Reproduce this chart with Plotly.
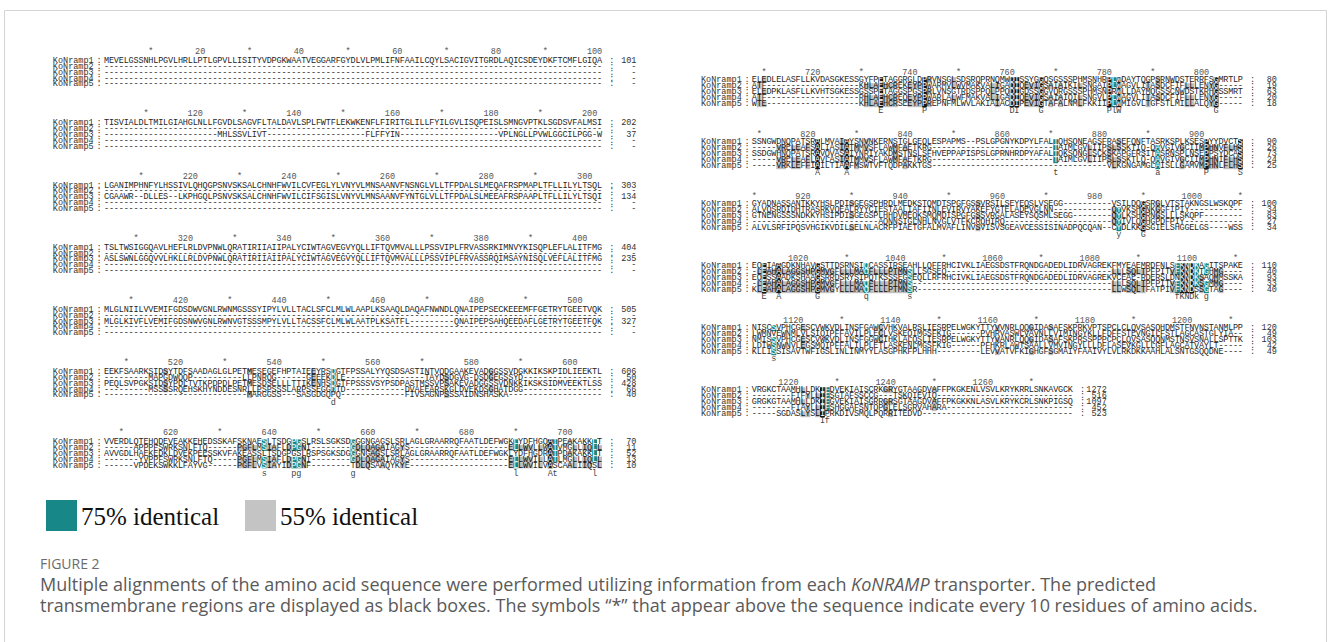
import plotly.graph_objects as go

# ---------------- data ----------------
NAMES = ["KoNramp1", "KoNramp2", "KoNramp3", "KoNramp4", "KoNramp5"]
GAP = "-" * 101

LEFT_STARTS = [1, 102, 203, 304, 405, 506, 607]
LEFT_SEQS = [
    ["MEVELGSSNHLPGVLHRLLPTLGPVLLISITYVDPGKWAATVEGGARFGYDLVLPMLIFNFAAILCQYLSACIGVITGRDLAQICSDEYDKFTCMFLGIQA",
     GAP, GAP, GAP, GAP],
    ["TISVIALDLTMILGIAHGLNLLFGVDLSAGVFLTALDAVLSPLFWTFLEKWKENFLFIRITGLILLFYILGVLISQPEISLSMNGVPTKLSGDSVFALMSI",
     GAP,
     "-" * 23 + "MHLSSVLIVT" + "-" * 20 + "FLFFYIN" + "-" * 20 + "VPLNGLLPVWLGGCILPGG-W",
     GAP, GAP],
    ["LGANIMPHNFYLHSSIVLQHQGPSNVSKSALCHNHFWVILCVFEGLYLVNYVLMNSAANVFNSNGLVLLTFPDALSLMEQAFRSPMAPLTFLLILYLTSQL",
     GAP,
     "CGAAWR--DLLES--LKPHGQLPSNVSKSALCHNHFWVILCIFSGISLVNYVLMNSAANVFYNTGLVLLTFPDALSLMEEAFRSPAAPLTFLLILYLTSQI",
     GAP, GAP],
    ["TSLTWSIGGQAVLHEFLRLDVPNWLQRATIRIIAIIPALYCIWTAGVEGVYQLLIFTQVMVALLLPSSVIPLFRVASSRKIMNVYKISQPLEFLALITFMG",
     GAP,
     "ASLSWNLGGQVVLHKLLRLDVPNWLQRATIRIIAIIPALYCIWTAGVEGVYQLLIFTQVMVALLLPSSVIPLFRVASSRQIMSAYNISQLVEFLALITFMG",
     GAP, GAP],
    ["MLGLNIILVVEMIFGDSDWVGNLRWNMGSSSYIPYLVLLTACLSFCLMLWLAAPLKSAAQLDAQAFNWNDLQNAIPEPSECKEEEMFFGETRYTGEETVQK",
     GAP,
     "MLGLKIVFLVEMIFGDSNWVGNLRWNVGTSSSMPYLVLLTACSSFCLMLWLAATPLKSATFL---------QNAIPEPSAHQEEDAFLGETRYTGEETFQK",
     GAP, GAP],
    ["EEKFSAARKSIDSYTDFSAADAGLGLPETMESEGEFHPTAIEEYRSDGTFPSSALYYQSDSASTINTVQDGAAKEVADGGSSVDGKKIKSKPIDLIEEKTL",
     "---------MAPGDWQQP----------LLPNRQG------GEEEKDLE----------------TAYDSDGVG-DSDGEGSSYD----------------",
     "PEQLSVPGKSIDSYPDLTVTKPDPDLPETMESDSELLLTTIKENHSDGTFPSSSVSYPSDPASTMSSVPSAKEVADGGSSVDNKKIKSKSIDMVEEKTLSS",
     "---------MSSSSRQEHSKHYNDDESNRLLPSPSSSLARPSSEGGDTD------------DVAFEARSKGLDVEKDSGHATDGG----------------",
     "-" * 29 + "MARGGSS---SASGDGQPQ" + "-" * 13 + "FIVSAGNPSSSAIDNSHASKA" + "-" * 19],
    ["VVERDLQTEHQDEVEAKKEHEDSSKAFSKNAESLTSDGPGSLRSLSGKSDGGGNGAGSLSRLAGLGRAARRQFAATLDEFWGKLYDFHGQATPEAKAKKLT",
     "------APPPFSWRKSNLFTQ------PGFLMSIAFLDPGNI--------GDLQAGAIAGYS--------------------ELLWVLLWATVMGLLIQLL",
     "AVVGDLHAEKEDKLDVEKPEESSKVFAKEASSLTSDGPGSLRSPSGKSDGGGNGAGSLSRLAGLGRAARRQFAATLDEFWGKLYDFHGDRATPDAKAKKLT",
     "-------YVPPFSWRKSNLFTQ-----PGFLMSIAFLDPGNI--------GDLQAGAIAGYS--------------------ELLWVILLATLMGLLIQLL",
     "------VPDEKSWKKLFAYVG------PGFLVSIAYIDPGNF--------TDLQSAAQYKYE--------------------ELLWVILVASCAALIIQSL"],
]
LEFT_ENDS = [
    ["101", "-", "-", "-", "-"],
    ["202", "-", "37", "-", "-"],
    ["303", "-", "134", "-", "-"],
    ["404", "-", "235", "-", "-"],
    ["505", "-", "327", "-", "-"],
    ["606", "50", "428", "66", "40"],
    ["70", "11", "52", "13", "10"],
]

RIGHT_STARTS = [708, 809, 910, 1011, 1112, 1213]
RIGHT_SEQS = [
    ["ELEDLELASFLLKVDASGKESSGYFPETAGGRGLDPRVNSGLSDSRQPRNQMWDISSYGGQSGSSSPHMSNHRPLWDAYTQGPSRNWDSTERRFSGMRTLP",
     "ATF" + "-" * 19 + "KHLAEHCREKEYPPWARMVLWVMAKVALIGADIQEVIGSAIAIKILSNGAIPLWAGVLITASDCFIFLLLENYG" + "-" * 5,
     "ELEDPKLASFLLKVHTSGKESSGSSPETAGGSPGSPRLVNSGTRDSPPQLPPQDIGDSSGGVQRGSSSPHMSNPRWLLDAYMQGSSCNWDSTKRHGSSMRT",
     "ATF" + "-" * 19 + "RHLAEHCREQEYPPWARLALWFMAKVALIGADIQEVIGSAIAIQILSNGVLPLWAGVLITASDCFIFLLLENYG" + "-" * 5,
     "WTE" + "-" * 19 + "KHLAEHCRSEEYPPREPNFMLWVLAKIAIACDIPEVIGTAFALNMLFKKIIPLWMIGVLTGFSTLMILLALQYG" + "-" * 5],
    ["SSNGWDNQPATSRALMVAIAYSNVNKERNSTGLGEQLESPAPMS--PSLGPGNYKDPYLFALTQHSQNEAGSFRASEFQNFTASRKSPLKSESPYYDVCTS",
     "-----VRELEAFSALIASIATMMVSFLAWMFAETKRG" + "-" * 25 + "TAIMLGVLIIPSLSSKTIQ-QAVGIVGCIIMPHNVFLHS",
     "SSDGWHNQPATSRAVQVASAIYNRIYAKDMSTNSLSFHVEPPAPISPSLGPRNHRDPYAFALTQKSQNGLSCKSKAPGFRSITASRNSPLNSEPPSYDCAS",
     "-----VRELEAFLAVLASIATMMVSFLAWMFAETKRG" + "-" * 25 + "TAIMLGVLIIPSLSSKTLQ-QAVGIVGCIIMPHNIFLHS",
     "-----VRKLEFFIAILTIAAFMSWTVFTQDPAKKTGS" + "-" * 36 + "VLKGNGAMGLAISLLGAMVMPHNLFLHS"],
    ["GYADNASSANTKKYHSLPDISGEGSPHRDLMEDKSTQMDTSPGFGSSVRSILSEYEQSLVSEGG" + "-" * 10 + "VSILDQGSRGLVTSTAKNGSLWSKQPF",
     "ALVQSRDIDHTRASRKVQEALRYYCIESTAALIAFIINLEVIRVYAKEFYGTELADEVGLNN" + "-" * 12 + "QYVKSHGNKGGFIPIY" + "-" * 11,
     "GTNENGSSSNDKKYHSIPDISGEGSPLHHDVMEQKSMQMDISPGFGSSVRGALASEYSQSMLSEGG" + "-" * 8 + "QYLKSHGRNGSLLLSKQPF" + "-" * 8,
     "-" * 26 + "AQNNSIGLNHLNVGLVTFKCRQHIRQ" + "-" * 22 + "QYIVLQGHGPDFPIY" + "-" * 12,
     "ALVLSRFIPQSVHGIKVDILSELNLACRFPIAETGFALMVAFLINVSVISVSGEAVCESSISINADPQCQAN--CYDLKKGSGIELSHGGELGS----WSS"],
    ["EQEIAAGDKNHAVGSTTDSRNSIQCASSIRSEAHLLQFFRHCIVKLIAEGSDSTFRQNDGADEDLIDRVAGREKFMYEAEMRDFNLSFKNDKAGITSPAKE",
     "-LEAHALAGGSHPGMVGFLLLMAQFLLLPTMNSLLSGSEQ" + "-" * 34 + "LLLSQLTPFPITVFKNDKTGHMG" + "-" * 4,
     "EQESSAADKSHAAGSRRDSRYSIPQTKSSSEGSEQLLRFRHCIVKLIAEGSDSTFRQNDGADEDLIDRVAGREKVCEAE-RDERSLDNKNDKSAQMMSSKA",
     "-LEAHALAGGSHPGMVGFLLLMAQFLLLPTMNS" + "-" * 41 + "LLLSQLTPFPITVFKNDKSGMMG" + "-" * 4,
     "KLEAHALAGGSHPGMVGYLLLMAQFLLLPTMNSR" + "-" * 40 + "LLWSQLTFATPIVFKNDSSGTAG" + "-" * 4],
    ["NISCSVPHCGESCVWKVDLINSFGAWCVHKVALRSLIESRPELWGKYTTYVVNRLQQGIDASAFSKPRKVPTSPCLCLQVSASQHDMSTFNVNSTANMLPPAPKP",
     "LWMNVEWNMLVLSIQIPFFAVILPLECLVSKEQIMGSFKIG" + "-" * 6 + "PVHRVASWLVAVNLLVIMINGYKLLFDFFSTEVNGILFSTLAGCASTGLYIA" + "--",
     "NMISSVPHCGESCVWKVDLINSFGGWCIHKLALQSLIESRPELWGKYTTYVANRLQQGIDASAFSKPRSSPPPCPCLQVSASQQNMSTNSVSNALLSPTTKP",
     "LDIWSNWNVLEGSMQIPFFALILPLETLASKENLMGSFKIG" + "-" * 6 + "PFHKRLAWTSAALLVMVINGYLLLDFLASEVKGLLLGFLAGCATVAYLT" + "-" * 5,
     "KLLISSISAVTWFIGSLINLINMYYLASGPHKFPLHHH" + "-" * 9 + "LEVVATVFKIGHGFSGMAIYFAAIVYLVLRKDKKAAHLALSNTGSQQDNE" + "-" * 4],
    ["VRGKCTAAMHLLDKIFDVEKIAISCRKGRYGTAAGDVAFFPKGKENLVSVLKRYKRRLSNKAVGCK",
     "-" * 8 + "FIFYLLIFSGTAFSSCCG---TSKQIEVIQ" + "-" * 28,
     "GRGKGTAAMHLLDKIFGVEKIAISGRRGRSGTAAGDVAFFPKGKKNLASVLKRYKCRLSNKPIGSQ",
     "-" * 8 + "FIAYLLIFSHGGAFSNTQPGLELSGRVAHARA" + "-" * 26,
     "-----SGDASLYSLIPRKDIVSMQLPQRRITEDVD" + "-" * 31],
]
RIGHT_ENDS = [
    ["80", "19", "63", "20", "18"],
    ["90", "26", "73", "24", "25"],
    ["100", "34", "83", "27", "34"],
    ["110", "40", "93", "33", "40"],
    ["120", "49", "103", "42", "49"],
    ["1272", "516", "1097", "452", "523"],
]
RIGHT_WIDTHS = [101, 101, 101, 101, 101, 66]

LEGEND_LABELS = ["75% identical", "55% identical"]
FIG_LABEL = "FIGURE 2"
CAPTION = [
    "Multiple alignments of the amino acid sequence were performed utilizing information from each <i>KoNRAMP</i> transporter. The predicted",
    "transmembrane regions are displayed as black boxes. The symbols \u201c*\u201d that appear above the sequence indicate every 10 residues of amino acids.",
]

# ---------------- style / layout parameters ----------------
W, H = 1330, 642
SEQ_FONT = "Liberation Mono"
C_BLACK, C_TEAL, C_GRAY = "#161616", "#178787", "#bdbdbd"
LEVEL_COL = {3: C_BLACK, 2: C_TEAL, 1: C_GRAY}
TEXT_COL = {0: "#262626", 1: "#111111", 2: "#ffffff", 3: "#ffffff"}

PANELS = [
    dict(starts=LEFT_STARTS, seqs=LEFT_SEQS, ends=LEFT_ENDS, widths=[101] * 7,
         x0=106.5, pitch=4.93, tick0=52, first=9, row=5.8, cons=8, gap=30, fs=8.5),
    dict(starts=RIGHT_STARTS, seqs=RIGHT_SEQS, ends=RIGHT_ENDS, widths=RIGHT_WIDTHS,
         x0=754.4, pitch=4.86, tick0=72.7, first=7.5, row=6.0, cons=7, gap=23.5, fs=8.5),
]


def fit(s, n):
    return (s + "-" * n)[:n]


def conservation(rows):
    n = len(rows[0])
    levels = [[0] * n for _ in rows]
    cons = []
    for c in range(n):
        col = [r[c] for r in rows]
        best, cnt = None, 0
        for ch in sorted(set(col)):
            if ch == "-":
                continue
            k = col.count(ch)
            if k > cnt:
                best, cnt = ch, k
        lev = 3 if cnt >= 5 else 2 if cnt == 4 else 1 if cnt == 3 else 0
        for i, ch in enumerate(col):
            if lev and ch == best:
                levels[i][c] = lev
        cons.append(best.upper() if cnt >= 5 else best.lower() if cnt == 4 else " ")
    return levels, "".join(cons)


fig = go.Figure()

for P in PANELS:
    cx, cy, cs, cc = [], [], [], []          # centred text
    lx, ly, ls = [], [], []                  # right-anchored (names / numbers)
    bars = {1: ([], []), 2: ([], []), 3: ([], [])}
    ytick = P["tick0"]
    x0, p = P["x0"], P["pitch"]
    for b, start in enumerate(P["starts"]):
        n = P["widths"][b]
        rows = [fit(s, n) for s in P["seqs"][b]]
        levels, cons = conservation(rows)
        for c in range(n):
            pos = start + c
            if pos % 10 == 0:
                cx.append(x0 + c * p); cy.append(ytick)
                cs.append(str(pos) if pos % 20 == 0 else "*"); cc.append("#555555")
        for i, r in enumerate(rows):
            y = ytick + P["first"] + i * P["row"]
            lx.append(x0 - 2.6 * p); ly.append(y); ls.append(NAMES[i])
            cx.append(x0 - 1.5 * p); cy.append(y); cs.append(":"); cc.append("#333333")
            for c, ch in enumerate(r):
                lev = levels[i][c]
                cx.append(x0 + c * p); cy.append(y); cs.append(ch); cc.append(TEXT_COL[lev])
                if lev:
                    bars[lev][0].append(x0 + c * p)
                    bars[lev][1].append(y - P["row"] / 2)
            cx.append(x0 + (n + 1.5) * p); cy.append(y); cs.append(":"); cc.append("#333333")
            lx.append(x0 + (n + 6.5) * p); ly.append(y); ls.append(P["ends"][b][i])
        ylast = ytick + P["first"] + 4 * P["row"]
        if cons.strip():
            ylast += P["cons"]
            for c, ch in enumerate(cons):
                if ch != " ":
                    cx.append(x0 + c * p); cy.append(ylast); cs.append(ch); cc.append("#444444")
        ytick = ylast + P["gap"]

    for lev in (1, 2, 3):
        xs, bs = bars[lev]
        fig.add_trace(go.Bar(x=xs, y=[P["row"]] * len(xs), base=bs, width=p,
                             marker=dict(color=LEVEL_COL[lev], line=dict(width=0)),
                             hoverinfo="skip", showlegend=False))
    fig.add_trace(go.Scatter(x=cx, y=cy, text=cs, mode="text", textposition="middle center",
                             textfont=dict(family=SEQ_FONT, size=P["fs"], color=cc),
                             hoverinfo="skip", showlegend=False))
    fig.add_trace(go.Scatter(x=lx, y=ly, text=ls, mode="text", textposition="middle left",
                             textfont=dict(family=SEQ_FONT, size=P["fs"], color="#333333"),
                             hoverinfo="skip", showlegend=False))

# frame
fig.add_shape(type="rect", x0=4.5, y0=10.5, x1=1326.5, y1=700, xref="x", yref="y",
              line=dict(color="#d4d4d4", width=1), fillcolor="rgba(0,0,0,0)", layer="below")

# legend boxes
LEG_X = [46, 245]
LEG_COL = [C_TEAL, "#c4c4c4"]
for lx_, col, lab in zip(LEG_X, LEG_COL, LEGEND_LABELS):
    fig.add_shape(type="rect", x0=lx_, x1=lx_ + 31, y0=500, y1=531, xref="x", yref="y",
                  line=dict(width=0), fillcolor=col)
    fig.add_annotation(x=lx_ + 33, y=516, text=lab, xref="x", yref="y", showarrow=False,
                       xanchor="left", yanchor="middle",
                       font=dict(family="Liberation Serif", size=25, color="#111111"))

fig.add_annotation(x=38, y=563, text=FIG_LABEL, xref="x", yref="y", showarrow=False,
                   xanchor="left", yanchor="middle",
                   font=dict(family="Open Sans", size=14, color="#6b6b6b"))
for k, line in enumerate(CAPTION):
    fig.add_annotation(x=38, y=584 + k * 21, text=line, xref="x", yref="y", showarrow=False,
                       xanchor="left", yanchor="middle",
                       font=dict(family="Open Sans", size=18, color="#5a5a5a"))

fig.update_layout(
    width=W, height=H, margin=dict(l=0, r=0, t=0, b=0), autosize=False,
    paper_bgcolor="white", plot_bgcolor="white", barmode="overlay", showlegend=False,
    xaxis=dict(range=[0, W], domain=[0, 1], visible=False, fixedrange=True),
    yaxis=dict(range=[H, 0], domain=[0, 1], visible=False, fixedrange=True),
)

fig.write_html("out.html", config={"displayModeBar": False, "staticPlot": True},
               post_script="document.body.style.margin='0px';document.body.style.overflow='hidden';")
